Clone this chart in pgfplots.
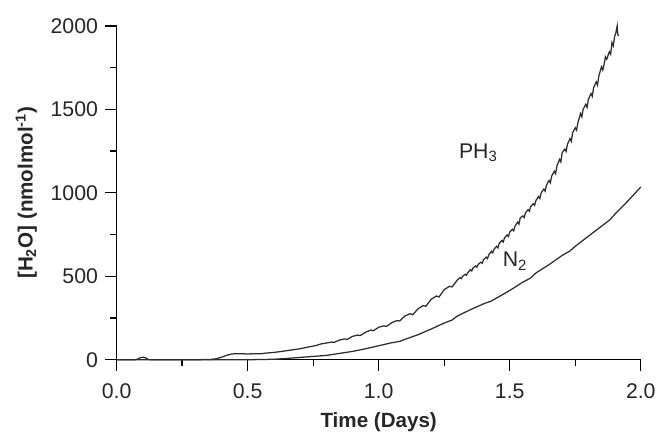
\documentclass[border=0pt]{standalone}
\usepackage{pgfplots}
\pgfplotsset{compat=1.18}
\usepackage{fontspec}
\setmainfont{Liberation Sans}
\definecolor{linec}{HTML}{2E2E2E}
\begin{document}
\begin{tikzpicture}
\begin{axis}[
  scale only axis,
  width=394.5pt, height=251.25pt,
  xmin=0, xmax=2, ymin=0, ymax=2000,
  axis lines*=left,
  axis line style={line width=1.1pt,-},
  every tick/.style={line width=1.0pt, black},
  tick align=outside,
  major tick length=8.5pt, minor tick length=5pt,
  xtick={0,0.5,1,1.5,2}, minor xtick={0.25,0.75,1.25,1.75},
  ytick={0,500,1000,1500,2000}, minor ytick={250,750,1250,1750},
  /pgf/number format/assume math mode=true,
  xticklabel style={/pgf/number format/.cd, fixed, fixed zerofill, precision=1},
  yticklabel style={/pgf/number format/.cd, fixed, set thousands separator={}},
  tick label style={font=\fontsize{16}{18}\selectfont, text=black!85},
  xticklabel shift=6pt,
  yticklabel shift=2pt,
  label style={font=\fontsize{15.5}{18}\selectfont\bfseries, text=black!85},
  xlabel={Time (Days)},
  ylabel={[H\textsubscript{2}O] (nmolmol\textsuperscript{-1})},
  xlabel style={at={(axis description cs:0.5,0)}, anchor=center, yshift=-47pt},
  ylabel style={at={(axis description cs:0,0.5)}, anchor=center, xshift=0pt},
  every axis y label/.append style={yshift=68pt},
  clip=false,
]
\addplot[linec, line width=0.95pt] coordinates {
(0.00,0) (0.07,0) (0.08,4) (0.09,12) (0.10,15) (0.11,12) (0.12,3) (0.13,0)
(0.30,0) (0.36,2) (0.38,6) (0.40,15) (0.42,27) (0.44,35) (0.46,36) (0.50,35)
(0.55,36) (0.57,40) (0.60,44) (0.63,50) (0.66,57) (0.70,66) (0.73,76) (0.76,85)
(0.78,95) (0.80,100) (0.82,106) (0.83,104) (0.85,118) (0.87,125) (0.88,122)
(0.90,140) (0.92,148) (0.93,145) (0.95,165) (0.97,178) (0.98,174) (1.00,195)
(1.02,203) (1.03,200) (1.05,222) (1.07,235) (1.08,232) (1.10,262) (1.12,276)
(1.13,270) (1.15,305) (1.17,325) (1.18,320) (1.20,362) (1.22,382) (1.23,376)
(1.25,420) (1.27,440) (1.28,436) (1.30,478)
(1.31,492) (1.315,486) (1.32,500) (1.33,512) (1.335,506) (1.34,522) (1.35,540)
(1.355,532) (1.36,550) (1.37,562) (1.375,555) (1.38,572) (1.39,585) (1.395,578)
(1.40,600) (1.41,615) (1.415,606) (1.42,628) (1.43,650) (1.435,640) (1.44,662)
(1.45,680) (1.455,670) (1.46,698) (1.47,715) (1.475,705) (1.48,730) (1.49,748)
(1.495,738) (1.50,765) (1.51,782) (1.515,772) (1.52,800) (1.53,825) (1.535,812)
(1.54,850) (1.55,862) (1.555,852) (1.56,880) (1.57,900) (1.575,890) (1.58,918)
(1.59,935) (1.595,925) (1.60,955) (1.61,978) (1.615,966) (1.62,1000) (1.63,1022)
(1.635,1010) (1.64,1045) (1.65,1075) (1.655,1060) (1.66,1100) (1.67,1130)
(1.675,1115) (1.68,1160) (1.69,1200) (1.695,1185) (1.70,1240) (1.71,1262)
(1.715,1248) (1.72,1290) (1.73,1325) (1.735,1308) (1.74,1360) (1.75,1390)
(1.755,1375) (1.76,1420) (1.77,1475) (1.775,1455) (1.78,1500) (1.79,1530)
(1.795,1512) (1.80,1560) (1.81,1595) (1.815,1578) (1.82,1630) (1.83,1665)
(1.835,1645) (1.84,1700) (1.85,1755) (1.855,1735) (1.86,1770) (1.865,1815)
(1.87,1800) (1.88,1845) (1.885,1830) (1.89,1900) (1.895,1880) (1.90,1935)
(1.905,1960) (1.91,2000) (1.912,1950) (1.915,1940)
};
\addplot[linec, line width=0.95pt] coordinates {
(0.00,0) (0.50,0) (0.60,3) (0.65,8) (0.70,14) (0.75,20) (0.80,26) (0.85,38)
(0.90,50) (0.95,66) (1.00,84) (1.05,102) (1.08,110) (1.10,122) (1.15,150) (1.20,184)
(1.25,220) (1.28,238) (1.30,262) (1.35,300) (1.40,335) (1.43,352) (1.45,370) (1.50,415)
(1.55,465) (1.58,490) (1.60,520) (1.65,570) (1.70,625) (1.73,652) (1.75,680) (1.80,740)
(1.85,800) (1.88,836) (1.90,870) (1.95,950) (2.00,1035)
};
\node[font=\fontsize{16}{18}\selectfont, text=black!85] at (axis cs:1.38,1240) {PH\textsubscript{3}};
\node[font=\fontsize{16}{18}\selectfont, text=black!85] at (axis cs:1.52,590) {N\textsubscript{2}};
\end{axis}
\useasboundingbox (current axis.south west) ++(-87.75pt,-55.5pt) rectangle ([shift={(12.75pt,19.5pt)}]current axis.north east);
\end{tikzpicture}
\end{document}
